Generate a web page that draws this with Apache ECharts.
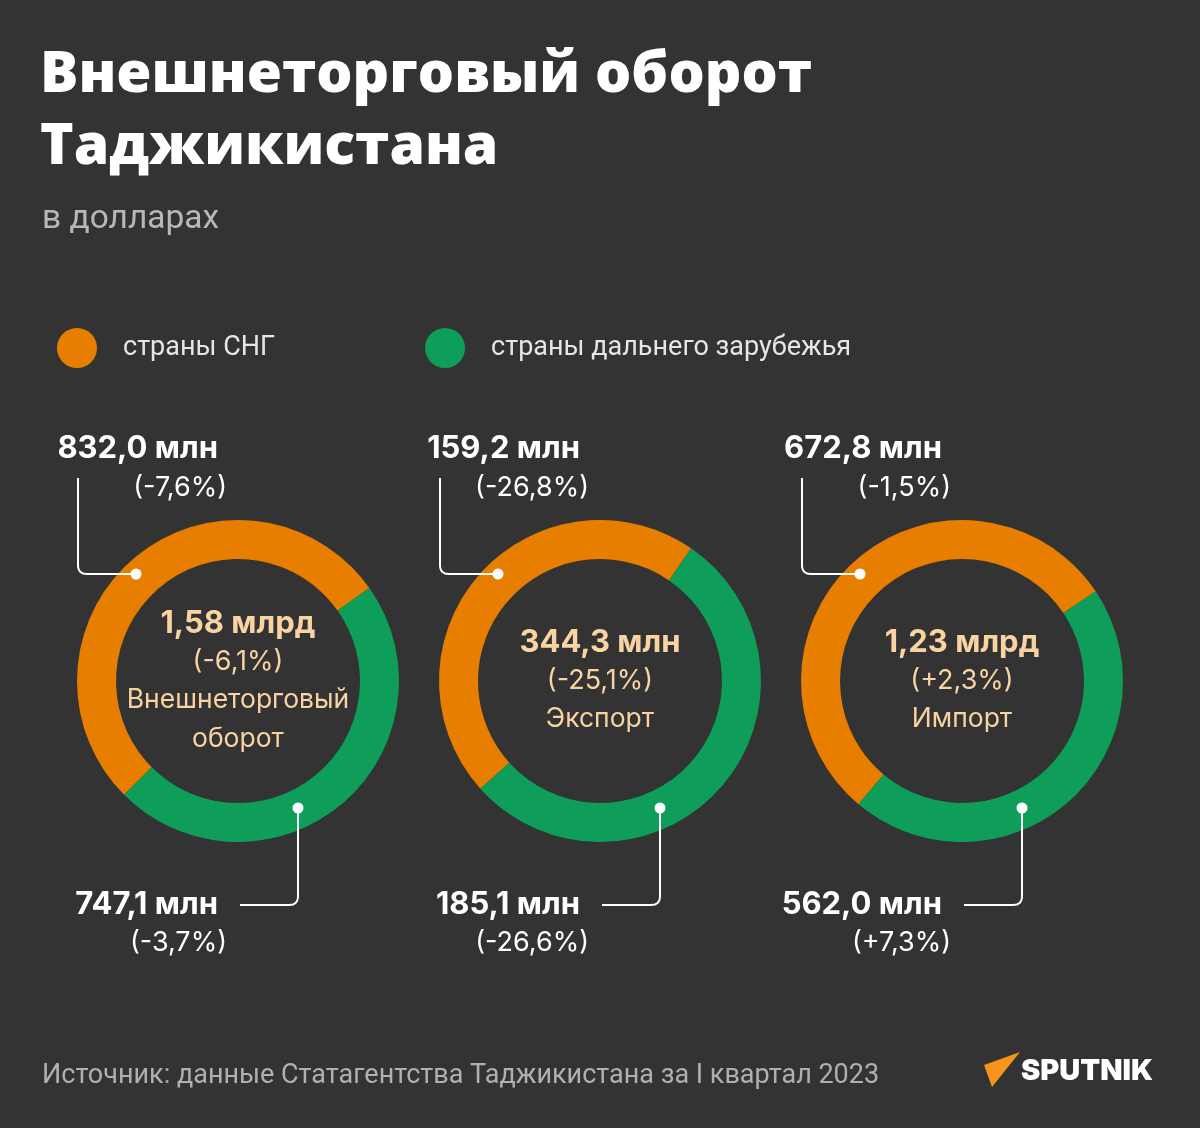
<!DOCTYPE html>
<html>
<head>
<meta charset="utf-8">
<script src="https://cdn.jsdelivr.net/npm/echarts@6/dist/echarts.min.js"></script>
<style>
  html, body { margin: 0; padding: 0; background: #333333; }
  #chart { width: 1200px; height: 1128px; }
</style>
</head>
<body>
<div id="chart"></div>
<script>
// данные
const groups = ['Внешнеторговый\nоборот', 'Экспорт', 'Импорт'];
const totals = ['1,58 млрд', '344,3 млн', '1,23 млрд'];
const totalChange = ['-6,1%', '-25,1%', '+2,3%'];
const legendNames = ['страны СНГ', 'страны дальнего зарубежья'];
const cisValues = [832.0, 159.2, 672.8];
const cisChange = ['-7,6%', '-26,8%', '-1,5%'];
const farValues = [747.1, 185.1, 562.0];
const farChange = ['-3,7%', '-26,6%', '+7,3%'];

const ORANGE = '#E87E00';
const GREEN = '#0E9E5A';
const PEACH = '#F9D3A2';
const centersX = [238, 600, 962];
const centerY = 681;
const startAngles = [225, 222, 230];

const fmt = v => v.toFixed(1).replace('.', ',') + ' млн';

// ломаная с закруглённым углом
function cornerLine(p0, c, p1, r) {
    const pts = [p0];
    const d0 = [Math.sign(p0[0] - c[0]), Math.sign(p0[1] - c[1])];
    const d1 = [Math.sign(p1[0] - c[0]), Math.sign(p1[1] - c[1])];
    const a = [c[0] + d0[0] * r, c[1] + d0[1] * r];
    const b = [c[0] + d1[0] * r, c[1] + d1[1] * r];
    for (let t = 0; t <= 1.0001; t += 0.125) {
        const u = 1 - t;
        pts.push([u * u * a[0] + 2 * u * t * c[0] + t * t * b[0], u * u * a[1] + 2 * u * t * c[1] + t * t * b[1]]);
    }
    pts.push(p1);
    return pts;
}

const chart = echarts.init(document.getElementById('chart'));

const series = groups.map((g, i) => ({
    name: g,
    type: 'pie',
    center: [centersX[i], centerY],
    radius: [122, 161],
    startAngle: startAngles[i],
    clockwise: true,
    silent: true,
    z: 2,
    label: { show: false },
    labelLine: { show: false },
    data: [
        { name: legendNames[0], value: cisValues[i] },
        { name: legendNames[1], value: farValues[i] }
    ]
}));

const graphics = [];
groups.forEach((g, i) => {
    const cx = centersX[i];
    // текст в центре
    const lines = g.split('\n');
    const n = 2 + lines.length;
    const lh = 38.5;
    const y0 = centerY - (n - 1) * lh / 2;
    graphics.push({
        type: 'text', x: cx, y: y0, silent: true, z: 100,
        style: { text: totals[i], fill: PEACH, font: 'bold 31px Inter', align: 'center', verticalAlign: 'middle' }
    });
    graphics.push({
        type: 'text', x: cx, y: y0 + lh, silent: true, z: 100,
        style: { text: '(' + totalChange[i] + ')', fill: PEACH, font: '27px Inter', align: 'center', verticalAlign: 'middle' }
    });
    lines.forEach((l, k) => graphics.push({
        type: 'text', x: cx, y: y0 + lh * (2 + k), silent: true, z: 100,
        style: { text: l, fill: PEACH, font: '26.5px Inter', align: 'center', verticalAlign: 'middle' }
    }));

    // подписи СНГ (сверху)
    graphics.push({
        type: 'text', x: cx - 20, y: 449, silent: true, z: 100,
        style: { text: fmt(cisValues[i]), fill: '#fff', font: 'bold 31px Inter', align: 'right', verticalAlign: 'middle' }
    });
    graphics.push({
        type: 'text', x: cx - 11, y: 488, silent: true, z: 100,
        style: { text: '(' + cisChange[i] + ')', fill: '#fff', font: '27px Inter', align: 'right', verticalAlign: 'middle' }
    });
    // подписи дальнего зарубежья (снизу)
    graphics.push({
        type: 'text', x: cx - 20, y: 905, silent: true, z: 100,
        style: { text: fmt(farValues[i]), fill: '#fff', font: 'bold 31px Inter', align: 'right', verticalAlign: 'middle' }
    });
    graphics.push({
        type: 'text', x: cx - 11, y: 943, silent: true, z: 100,
        style: { text: '(' + farChange[i] + ')', fill: '#fff', font: '27px Inter', align: 'right', verticalAlign: 'middle' }
    });

    // выноски
    const tx = cx - 102, ty = 574, lx = cx - 160;
    graphics.push({
        type: 'polyline', silent: true, z: 100,
        shape: { points: cornerLine([tx, ty], [lx, ty], [lx, 478], 9) },
        style: { stroke: '#fff', lineWidth: 2, fill: null }
    });
    graphics.push({ type: 'circle', silent: true, z: 101, shape: { cx: tx, cy: ty, r: 5.5 }, style: { fill: '#fff' } });

    const bx = cx + 60, by = 808, ly = 905, ex = cx + 2;
    graphics.push({
        type: 'polyline', silent: true, z: 100,
        shape: { points: cornerLine([bx, by], [bx, ly], [ex, ly], 9) },
        style: { stroke: '#fff', lineWidth: 2, fill: null }
    });
    graphics.push({ type: 'circle', silent: true, z: 101, shape: { cx: bx, cy: by, r: 5.5 }, style: { fill: '#fff' } });
});

// логотип
graphics.push({
    type: 'polygon', silent: true, z: 100,
    shape: { points: [[984, 1065], [1020, 1052], [992, 1087]] },
    style: { fill: '#F7941D' }
});
graphics.push({
    type: 'text', x: 1021, y: 1071, silent: true, z: 100,
    style: { text: 'SPUTNIK', fill: '#fff', font: '900 29px Inter', align: 'left', verticalAlign: 'middle' }
});

const option = {
    backgroundColor: '#333333',
    color: [ORANGE, GREEN],
    textStyle: { fontFamily: 'Inter' },
    title: [
        {
            text: 'Внешнеторговый оборот\nТаджикистана',
            left: 40, top: 40, padding: 0,
            textStyle: { color: '#fff', fontSize: 57, fontWeight: 800, fontFamily: 'Open Sans', lineHeight: 72 }
        },
        {
            text: 'в долларах',
            left: 42, top: 203, padding: 0,
            textStyle: { color: '#b8b8b8', fontSize: 33.5, fontWeight: 'normal', fontFamily: 'Roboto' }
        },
        {
            text: 'Источник: данные Статагентства Таджикистана за I квартал 2023',
            left: 42, top: 1063, padding: 0,
            textStyle: { color: '#b0b0b0', fontSize: 27, fontWeight: 'normal', fontFamily: 'Roboto' }
        }
    ],
    legend: {
        data: legendNames,
        left: 57, top: 328, padding: 0,
        icon: 'circle',
        itemWidth: 40, itemHeight: 40,
        itemGap: 150,
        selectedMode: false,
        textStyle: { color: '#e6e6e6', fontSize: 27, fontFamily: 'Roboto', padding: [0, 0, 0, 21] }
    },
    series: series,
    graphic: graphics
};

chart.setOption(option);
</script>
</body>
</html>
